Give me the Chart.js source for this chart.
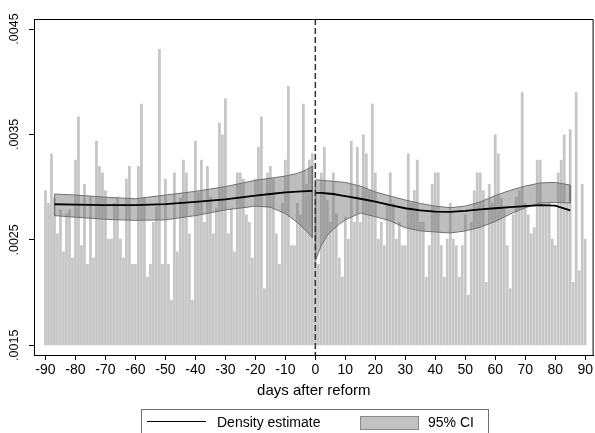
<!DOCTYPE html>
<html>
<head>
<meta charset="utf-8">
<script src="https://cdn.jsdelivr.net/npm/chart.js@4.4.1/dist/chart.umd.min.js"></script>
<style>
body { margin: 0; background: #fff; }
#wrap { position: relative; width: 595px; height: 433px; overflow: hidden; font-family: "Liberation Sans", Arial, sans-serif; }
#legend { position: absolute; left: 141px; top: 409px; width: 348px; height: 40px; border: 1px solid #6e6e6e; box-sizing: border-box; font-size: 14px; color: #000; }
#legend .key-line { position: absolute; left: 5px; top: 11px; width: 59px; border-top: 1.5px solid #000; }
#legend .key-box { position: absolute; left: 218px; top: 6px; width: 57px; height: 12px; background: #c2c2c2; border: 1px solid #8a8a8a; }
#legend .txt { position: absolute; top: 4px; line-height: 16px; white-space: nowrap; }
</style>
</head>
<body>
<div id="wrap">
  <canvas id="chart" width="595" height="433"></canvas>
  <div id="legend">
    <div class="key-line"></div><div class="txt" style="left:75px">Density estimate</div>
    <div class="key-box"></div><div class="txt" style="left:286px">95% CI</div>
  </div>
</div>
<script>
// days -90 .. 90
const days = Array.from({ length: 181 }, (_, i) => i - 90);

// share of events per day (bar tops)
const dailyShare = [
  .00297, .00285, .00332, .00290, .00256, .00279, .00239, .00275, .00279, .00233,
  .00326, .00367, .00245, .00303, .00227, .00291, .00233, .00344, .00320, .00314,
  .00297, .00251, .00251, .00285, .00291, .00251, .00233, .00308, .00320, .00227,
  .00227, .00320, .00379, .00291, .00215, .00227, .00267, .00282, .00431, .00227,
  .00308, .00227, .00193, .00314, .00239, .00290, .00326, .00314, .00256, .00193,
  .00344, .00295, .00326, .00267, .00320, .00291, .00256, .00280, .00361, .00350,
  .00384, .00256, .00280, .00239, .00314, .00314, .00308, .00274, .00267, .00233,
  .00308, .00338, .00367, .00204, .00314, .00320, .00308, .00256, .00227, .00285,
  .00326, .00396, .00245, .00245, .00285, .00274, .00379, .00303, .00326, .00332,
  .00300, .00227, .00314, .00338, .00288, .00267, .00314, .00275, .00233, .00215,
  .00272, .00251, .00344, .00267, .00338, .00267, .00350, .00332, .00297, .00379,
  .00314, .00251, .00267, .00245, .00285, .00314, .00285, .00251, .00267, .00245,
  .00245, .00332, .00285, .00297, .00326, .00267, .00267, .00215, .00245, .00303,
  .00314, .00314, .00245, .00215, .00251, .00285, .00251, .00245, .00215, .00245,
  .00274, .00198, .00267, .00297, .00314, .00314, .00297, .00210, .00303, .00285,
  .00350, .00332, .00290, .00280, .00245, .00204, .00274, .00291, .00297, .00390,
  .00285, .00274, .00256, .00262, .00326, .00326, .00285, .00285, .00285, .00251,
  .00245, .00314, .00326, .00350, .00285, .00355, .00210, .00390, .00221, .00303,
  .00251
];
const barBase = .0015;

// density estimate and 95% CI before the reform
const preDays    = [-87, -80, -70, -60, -50, -40, -30, -20, -15, -10, -6, -3, -1];
const preDensity = [.002838, .002835, .00283, .00283, .00284, .00286, .002885, .00292, .002935, .00295, .002957, .002962, .002965];
const preUpper   = [.002935, .002925, .002905, .00289, .002925, .00296, .003005, .003065, .003085, .003105, .00313, .003165, .0032];
const preLower   = [.00273, .002715, .002695, .002685, .00269, .00273, .002784, .00282, .00281, .00275, .002665, .002585, .00252];

// density estimate and 95% CI after the reform
const postDays    = [0, 2, 4, 6, 8, 10, 15, 20, 25, 30, 35, 40, 45, 50, 55, 60, 65, 70, 75, 80, 85];
const postDensity = [.002945, .002945, .00294, .002935, .002925, .002915, .00289, .002862, .00283, .0028, .00278, .002768, .002765, .002775, .00279, .0028, .00281, .00282, .00283, .002825, .00278];
const postUpper   = [.00307, .003065, .00306, .003055, .00305, .003045, .00301, .002955, .002915, .002878, .002845, .00282, .002805, .00282, .00286, .00292, .00297, .00301, .00304, .003045, .00302];
const postLower   = [.0023, .00245, .002545, .0026, .00265, .00269, .002755, .00272, .00268, .002615, .002585, .002575, .002565, .002585, .00262, .002675, .002745, .002805, .00285, .002855, .00285];

const xTicks = [-90, -80, -70, -60, -50, -40, -30, -20, -10, 0, 10, 20, 30, 40, 50, 60, 70, 80, 90];
const yTicks = [.0015, .0025, .0035, .0045];
const yMin = .001408, yMax = .004595;

function band(xs, up, lo) {
  const pts = xs.map((x, i) => ({ x, y: up[i] }));
  for (let i = xs.length - 1; i >= 0; i--) pts.push({ x: xs[i], y: lo[i] });
  pts.push({ x: xs[0], y: up[0] });
  return pts;
}
const pairs = (xs, ys) => xs.map((x, i) => ({ x, y: ys[i] }));

const bandStyle = {
  type: 'line', fill: 'shape', backgroundColor: 'rgba(110,110,110,0.45)',
  borderColor: '#707070', borderWidth: 1, pointRadius: 0, tension: 0, order: 4
};
const lineStyle = { type: 'line', borderColor: '#000', borderWidth: 1.8, pointRadius: 0, tension: 0, fill: false, order: 2 };

const frame = {
  id: 'frame',
  afterDraw(chart) {
    const { ctx, chartArea: a } = chart;
    ctx.save();
    ctx.strokeStyle = '#000';
    ctx.lineWidth = 1;
    ctx.beginPath();
    ctx.moveTo(a.left, a.top + 0.5);
    ctx.lineTo(a.right - 0.5, a.top + 0.5);
    ctx.lineTo(a.right - 0.5, a.bottom);
    ctx.stroke();
    ctx.restore();
  }
};

Chart.defaults.font.family = '"Liberation Sans", Arial, sans-serif';
Chart.defaults.color = '#000';

new Chart(document.getElementById('chart'), {
  type: 'bar',
  data: {
    datasets: [
      {
        type: 'bar',
        data: days.map((d, i) => ({ x: d, y: [barBase, dailyShare[i]] })),
        backgroundColor: '#c6c6c6',
        barPercentage: 0.92,
        categoryPercentage: 1,
        order: 5
      },
      Object.assign({ data: band(preDays, preUpper, preLower) }, bandStyle),
      Object.assign({ data: band(postDays, postUpper, postLower) }, bandStyle),
      Object.assign({ data: pairs(preDays, preDensity) }, lineStyle),
      Object.assign({ data: pairs(postDays, postDensity) }, lineStyle),
      {
        type: 'line',
        data: [{ x: 0, y: yMax }, { x: 0, y: yMin }],
        borderColor: '#333',
        borderWidth: 1.5,
        borderDash: [6, 3],
        pointRadius: 0,
        fill: false,
        order: 1
      }
    ]
  },
  options: {
    responsive: false,
    animation: false,
    events: [],
    layout: { padding: { top: 19, right: 1, left: 0, bottom: 0 } },
    plugins: { legend: { display: false }, tooltip: { enabled: false } },
    scales: {
      x: {
        type: 'linear',
        min: -93.83,
        max: 92.8,
        offset: false,
        bounds: 'data',
        afterFit: s => { s.height = 78; },
        afterBuildTicks: s => { s.ticks = xTicks.map(v => ({ value: v })); },
        grid: { display: true, offset: false, drawOnChartArea: false, drawTicks: true, tickLength: 5, color: '#000' },
        border: { display: true, color: '#000', width: 1 },
        ticks: { autoSkip: false, maxRotation: 0, padding: 2, font: { size: 14 }, color: '#000' },
        title: { display: true, text: 'days after reform', font: { size: 15 }, color: '#000', padding: { top: 0, bottom: 33 } }
      },
      y: {
        type: 'linear',
        min: yMin,
        max: yMax,
        beginAtZero: false,
        bounds: 'data',
        afterFit: s => { s.width = 34; },
        afterBuildTicks: s => { s.ticks = yTicks.map(v => ({ value: v })); },
        grid: { display: true, drawOnChartArea: false, drawTicks: true, tickLength: 5, color: '#000' },
        border: { display: true, color: '#000', width: 1 },
        ticks: {
          autoSkip: false, minRotation: 90, maxRotation: 90, crossAlign: 'center', padding: -1,
          font: { size: 12.5 }, color: '#000',
          callback: v => v.toFixed(4).slice(1)
        }
      }
    }
  },
  plugins: [frame]
});
</script>
</body>
</html>
